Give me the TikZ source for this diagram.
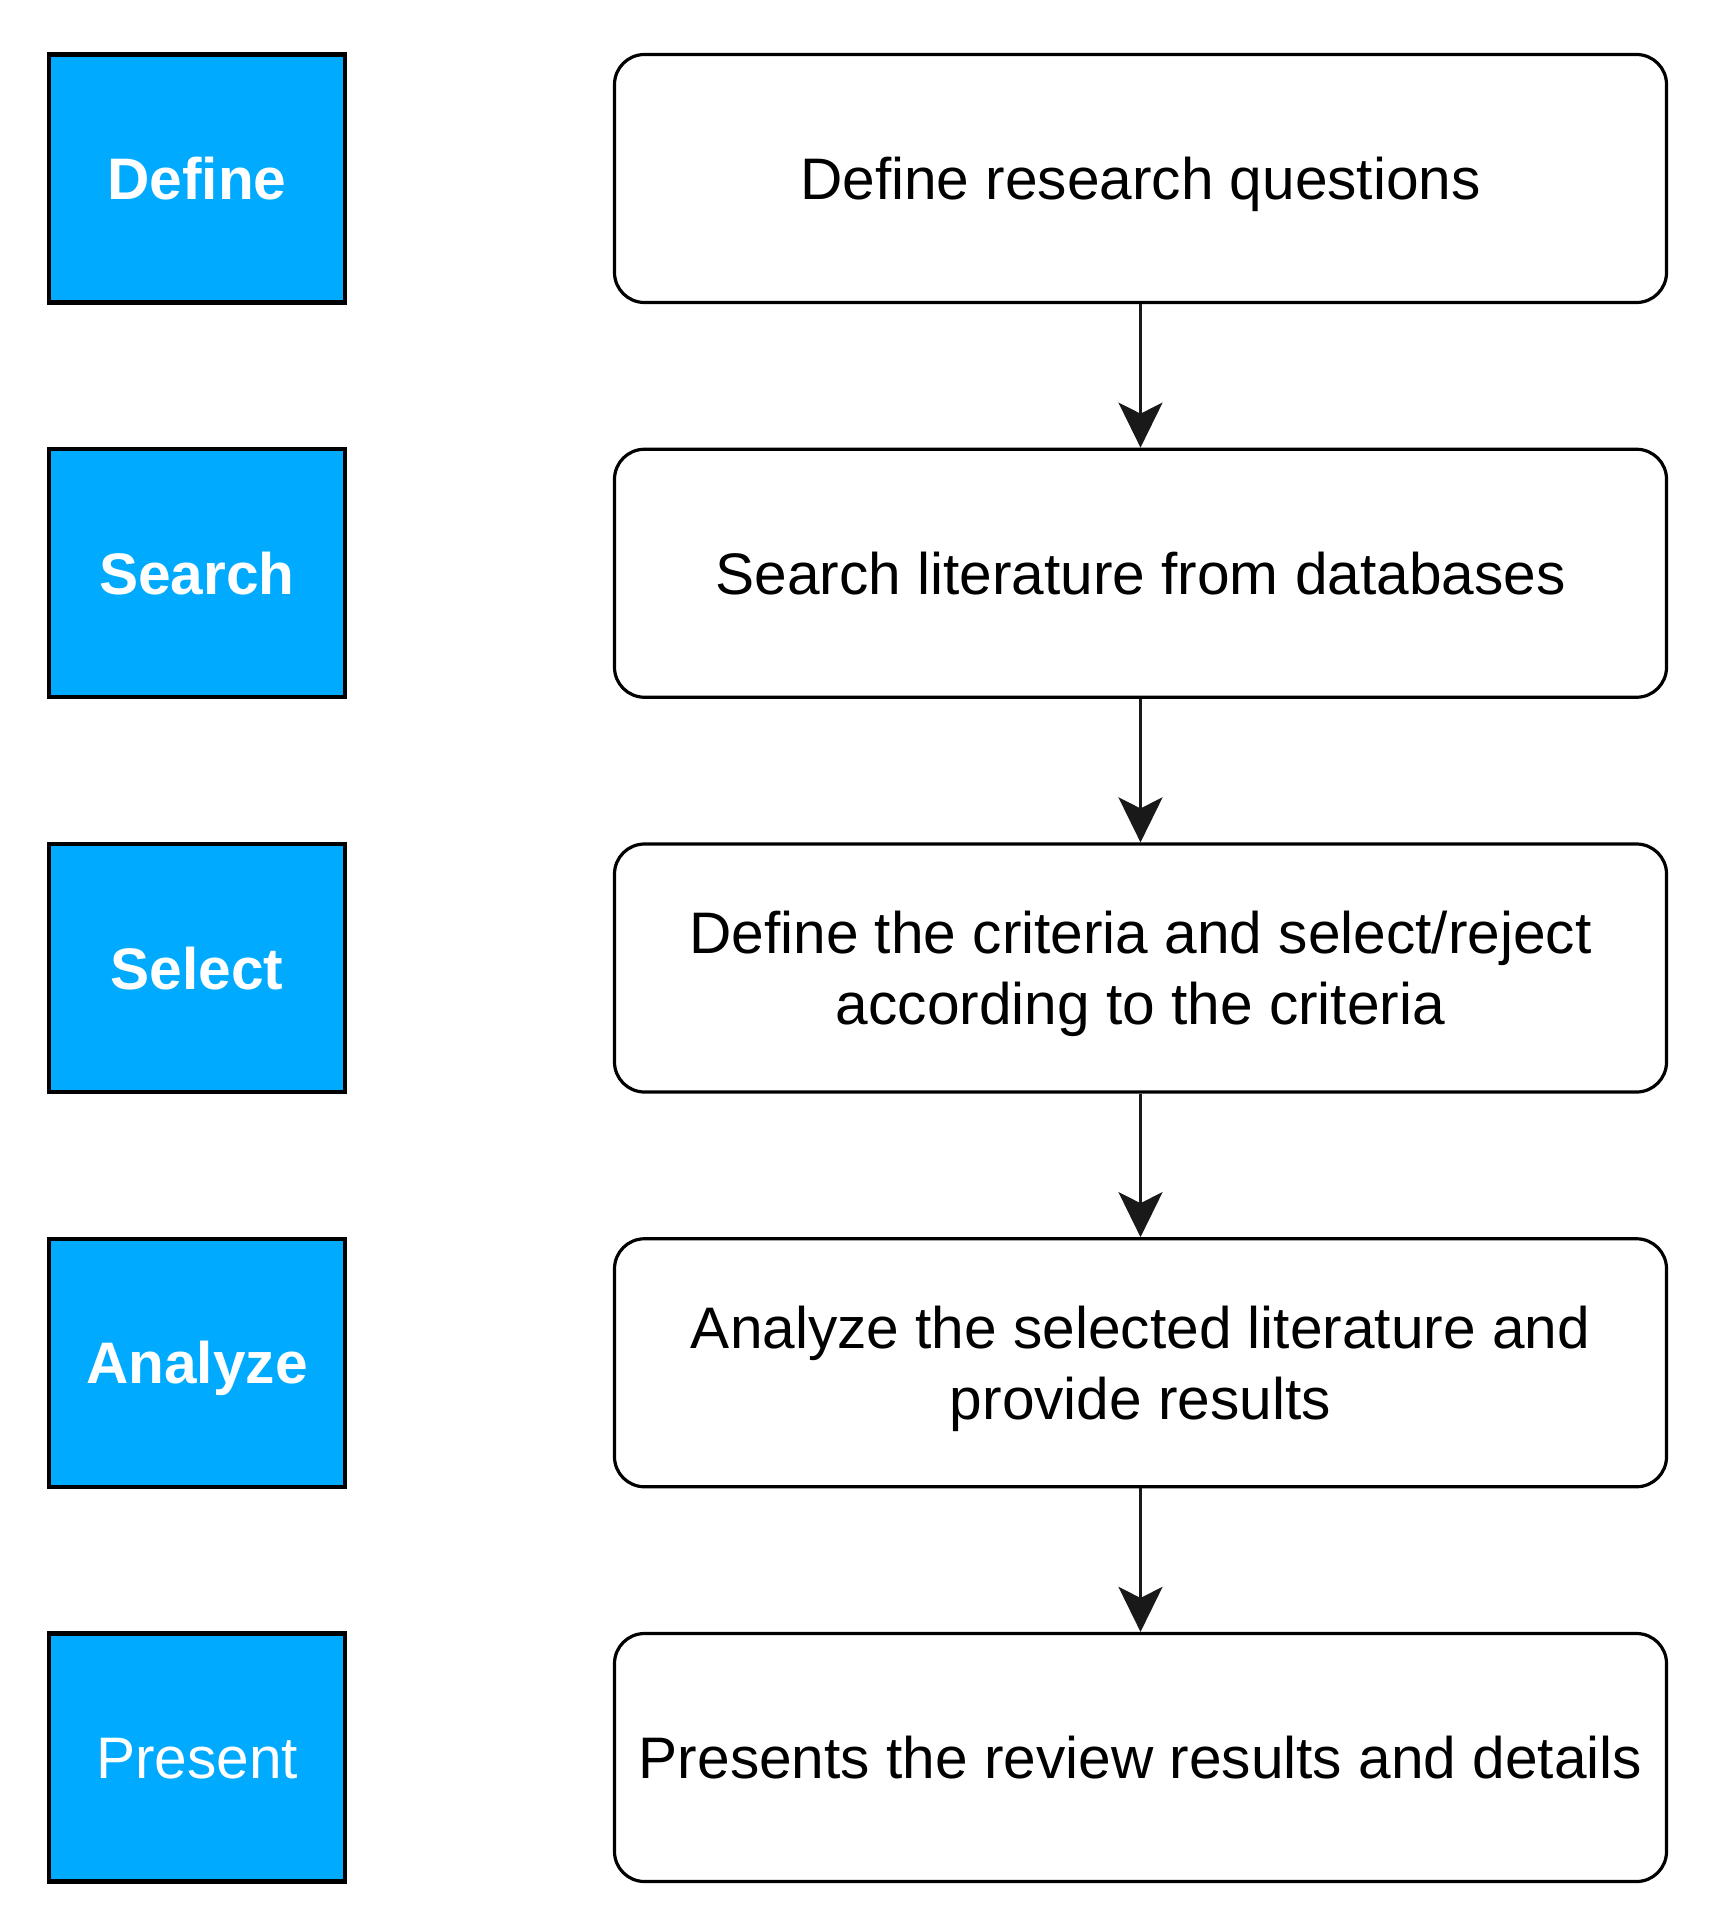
\documentclass[tikz,border=0pt]{standalone}
\usepackage{fontspec}
\setmainfont{Liberation Sans}
\usetikzlibrary{arrows.meta}
\definecolor{stageblue}{HTML}{00AAFF}
\begin{document}
\begin{tikzpicture}[x=0.5pt,y=-0.5pt,
  stage/.style={draw=black, line width=2.2pt, fill=stageblue, text=white,
    font=\fontsize{29.3}{35.5}\selectfont\bfseries,
    minimum width=148pt, minimum height=124pt, inner sep=0pt,
    text height=21pt, text depth=0pt},
  stepbox/.style={draw=black, line width=1.6pt, rounded corners=15pt, fill=white,
    font=\fontsize{29.3}{35.5}\selectfont, align=center,
    minimum width=526pt, minimum height=124pt, inner sep=0pt, text depth=0pt},
  flow/.style={draw=black!90, line width=1.4pt,
    -{Stealth[length=22.5pt,width=22pt,inset=5.5pt]}}]
\useasboundingbox (0,0) rectangle (1718,1905);
% left stage labels
\node[stage] (l1) at (197,178.5) {Define};
\node[stage] (l2) at (197,573.25) {Search};
\node[stage] (l3) at (197,968) {Select};
\node[stage] (l4) at (197,1362.75) {Analyze};
\node[stage, font=\fontsize{29.3}{35.5}\selectfont] (l5) at (197,1757.5) {Present};
% right process boxes
\node[stepbox] (s1) at (1140.5,178.5) {Define research questions};
\node[stepbox] (s2) at (1140.5,573.25) {Search literature from databases};
\node[stepbox] (s3) at (1140.5,968) {Define the criteria and select/reject\\according to the criteria};
\node[stepbox] (s4) at (1140.5,1362.75) {Analyze the selected literature and\\provide results};
\node[stepbox] (s5) at (1140.5,1757.5) {Presents the review results and details};
% connectors
\draw[flow] (s1.south) -- (s2.north);
\draw[flow] (s2.south) -- (s3.north);
\draw[flow] (s3.south) -- (s4.north);
\draw[flow] (s4.south) -- (s5.north);
\end{tikzpicture}
\end{document}
